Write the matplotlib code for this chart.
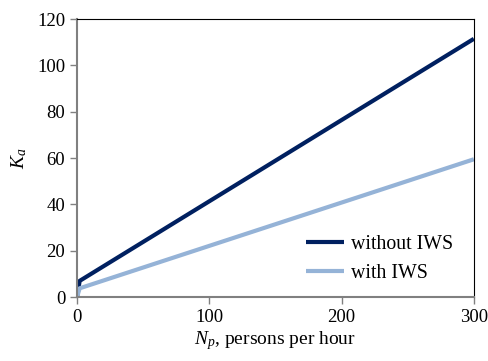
import matplotlib.pyplot as plt

# persons per hour vs K_a
n_p = [0, 2, 300]
k_without_iws = [0, 7.0, 111.5]
k_with_iws = [0, 3.8, 59.5]

plt.rcParams['font.family'] = ['Liberation Serif', 'DejaVu Serif']
plt.rcParams['mathtext.fontset'] = 'custom'
plt.rcParams['mathtext.it'] = 'Liberation Serif:italic'
plt.rcParams['mathtext.rm'] = 'Liberation Serif'

fig = plt.figure(figsize=(4.89, 3.61), dpi=100)
ax = fig.add_axes([0.1575, 0.177, 0.8115, 0.77])

ax.plot(n_p, k_without_iws, color='#002060', lw=3, label='without IWS', solid_capstyle='butt')
ax.plot(n_p, k_with_iws, color='#95B3D7', lw=3, label='with IWS', solid_capstyle='butt')

ax.set_xlim(0, 300)
ax.set_ylim(0, 120)
ax.set_xticks([0, 100, 200, 300])
ax.set_yticks(range(0, 121, 20))

for s in ['left', 'bottom']:
    ax.spines[s].set_color('#808080')
    ax.spines[s].set_linewidth(1.5)
for s in ['top', 'right']:
    ax.spines[s].set_color('black')
    ax.spines[s].set_linewidth(0.8)

ax.tick_params(axis='both', labelsize=13.5, colors='#808080', labelcolor='black',
               length=5, width=1, direction='out')

ax.set_xlabel('$N_p$, persons per hour', fontsize=14, labelpad=2)
ax.set_ylabel('$K_a$', fontsize=14, labelpad=6)

ax.legend(loc='lower right', frameon=False, fontsize=14.3, handlelength=1.9,
          handletextpad=0.35, labelspacing=0.5, bbox_to_anchor=(0.992, -0.013))

fig.savefig('out.png', dpi=100)
